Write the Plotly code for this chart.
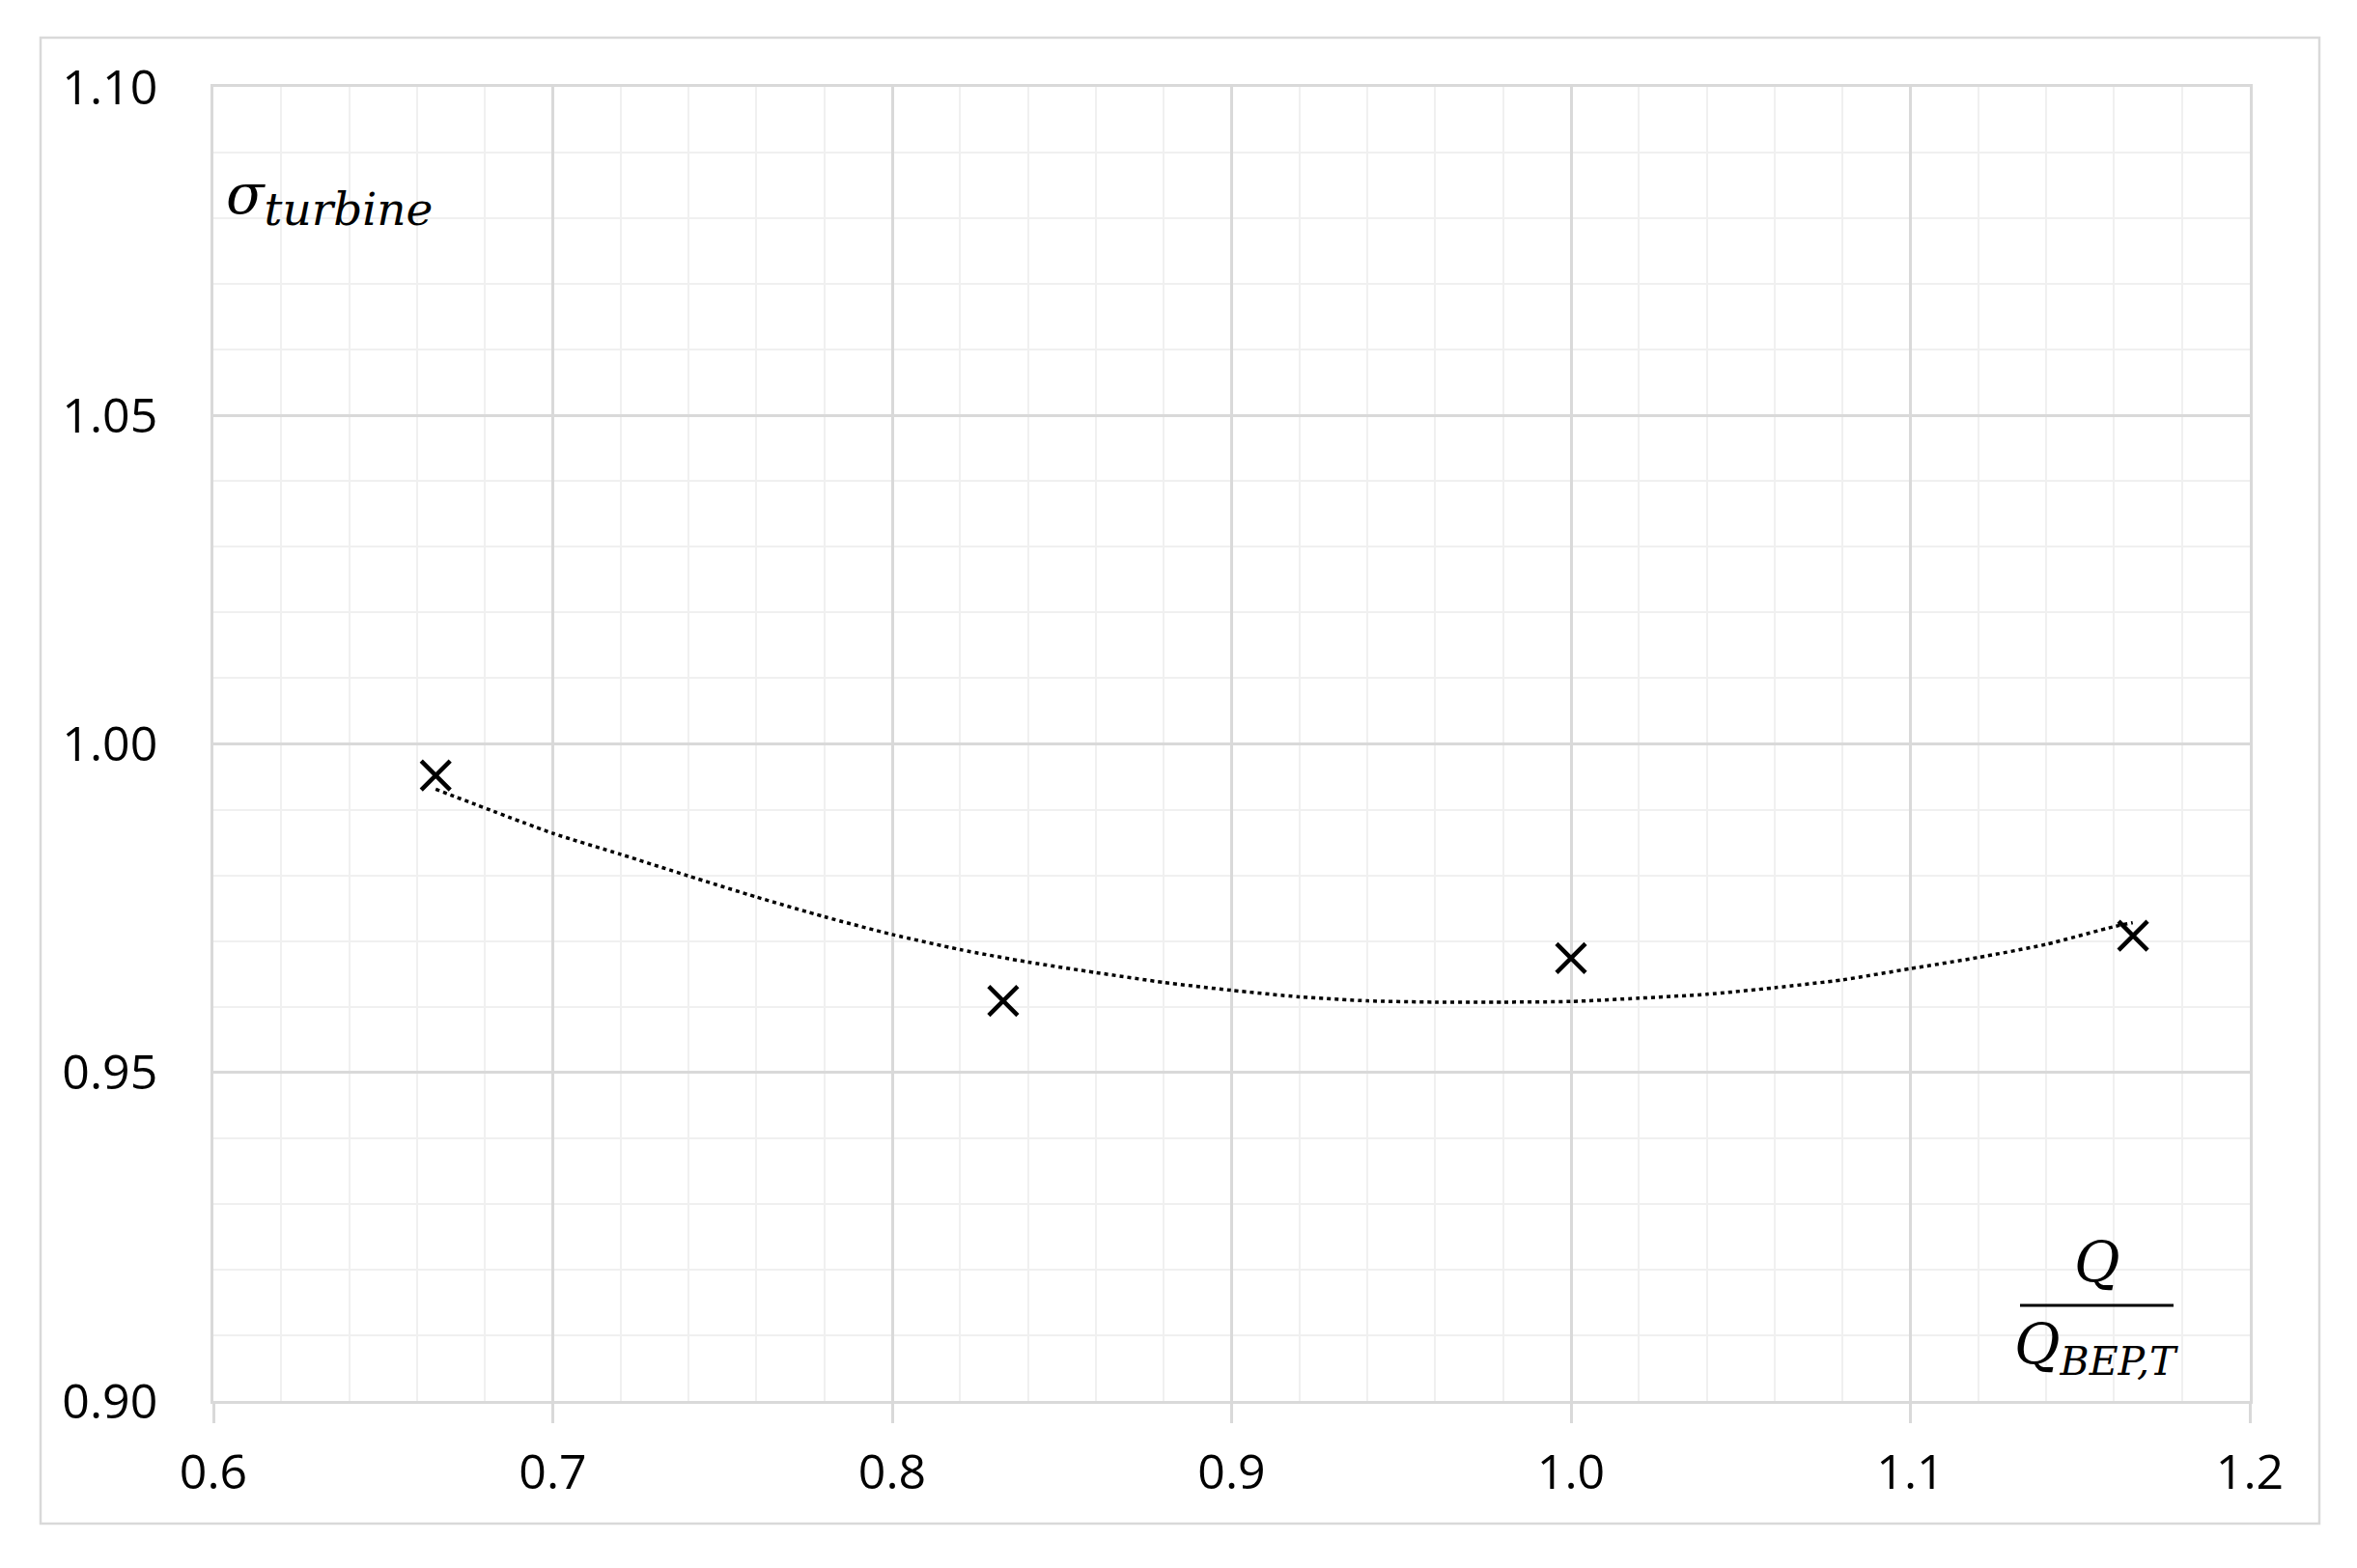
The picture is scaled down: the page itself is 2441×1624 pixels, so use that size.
import plotly.graph_objects as go

# ---- data ----
q_ratio = [0.6655, 0.8327, 1.000, 1.1656]
sigma_turbine = [0.9952, 0.9609, 0.9674, 0.9708]

trend_x = [0.6655, 0.70, 0.72, 0.74, 0.76, 0.78, 0.80, 0.82, 0.84, 0.86, 0.88, 0.90, 0.92,
           0.94, 0.96, 0.98, 1.00, 1.02, 1.04, 1.06, 1.08, 1.10, 1.12, 1.14, 1.16, 1.1655]
trend_y = [0.9931, 0.9864, 0.9832, 0.9799, 0.9767, 0.9737, 0.9710, 0.9687, 0.9668, 0.9652,
           0.9637, 0.9625, 0.9615, 0.9609, 0.9607, 0.9607, 0.9608, 0.9613, 0.9619, 0.9629,
           0.9641, 0.9658, 0.9675, 0.9695, 0.9722, 0.9728]

x_ticks = [0.6, 0.7, 0.8, 0.9, 1.0, 1.1, 1.2]
x_tick_labels = ["0.6", "0.7", "0.8", "0.9", "1.0", "1.1", "1.2"]
y_ticks = [0.90, 0.95, 1.00, 1.05, 1.10]
y_tick_labels = ["0.90", "0.95", "1.00", "1.05", "1.10"]

# ---- layout geometry (pixels, as seen in the page; body margin compensated) ----
OFF = 8
W, H = 2441, 1624
L, R, T, B = 221 - OFF, 2330 - OFF, 90 - OFF, 1451 - OFF
PW, PH = R - L, B - T


def px_x(p):
    return (p - OFF - L) / PW


def px_y(p):
    return (B - (p - OFF)) / PH


MAJOR = "#d9d9d9"
MINOR = "#f0f0f0"
TICKFONT = dict(family="Open Sans, Noto Sans, sans-serif", size=50, color="#000000")
MATHFONT = dict(family="DejaVu Serif, serif", size=58, color="#000000")

fig = go.Figure()

fig.add_trace(go.Scatter(
    x=trend_x, y=trend_y, mode="lines",
    line=dict(color="#000000", width=3.5, dash="4px,4px", shape="spline", smoothing=0.6),
    hoverinfo="skip", showlegend=False,
))

fig.add_trace(go.Scatter(
    x=q_ratio, y=sigma_turbine, mode="markers",
    marker=dict(symbol="x-thin", size=30, color="#000000",
                line=dict(color="#000000", width=4.5)),
    showlegend=False,
))

fig.update_layout(
    width=W, height=H,
    margin=dict(l=L, r=W - R, t=T, b=H - B, pad=0),
    paper_bgcolor="#ffffff", plot_bgcolor="#ffffff",
    showlegend=False,
    xaxis=dict(
        range=[0.6, 1.2], tickvals=x_ticks, ticktext=x_tick_labels,
        showgrid=True, gridcolor=MAJOR, gridwidth=2.5,
        zeroline=False, showline=True, linecolor=MAJOR, linewidth=2.5, mirror=True,
        ticks="outside", ticklen=20, tickwidth=2.5, tickcolor=MAJOR,
        tickfont=TICKFONT, ticklabelstandoff=8,
        minor=dict(dtick=0.02, showgrid=True, gridcolor=MINOR, gridwidth=2, ticks=""),
    ),
    yaxis=dict(
        range=[0.90, 1.10], tickvals=y_ticks, ticktext=y_tick_labels,
        showgrid=True, gridcolor=MAJOR, gridwidth=2.5,
        zeroline=False, showline=True, linecolor=MAJOR, linewidth=2.5, mirror=True,
        ticks="", tickfont=TICKFONT, ticklabelstandoff=45,
        minor=dict(dtick=0.01, showgrid=True, gridcolor=MINOR, gridwidth=2, ticks=""),
    ),
)

# outer chart border
fig.add_shape(type="rect", xref="paper", yref="paper",
              x0=px_x(42), x1=px_x(2402), y0=px_y(1578), y1=px_y(39),
              line=dict(color=MAJOR, width=2.5), fillcolor="rgba(0,0,0,0)", layer="below")

# y axis label: sigma_turbine
fig.add_annotation(xref="paper", yref="paper", x=px_x(232), y=px_y(206),
                   xanchor="left", yanchor="middle", showarrow=False,
                   text="<i>σ<sub><span style='font-size:47px'>turbine</span></sub></i>",
                   font=MATHFONT)

# x axis label: fraction Q / Q_BEP,T
fig.add_annotation(xref="paper", yref="paper", x=px_x(2172), y=px_y(1307),
                   xanchor="center", yanchor="middle", showarrow=False,
                   text="<i>Q</i>", font=MATHFONT)
fig.add_shape(type="line", xref="paper", yref="paper",
              x0=px_x(2092), x1=px_x(2251), y0=px_y(1352), y1=px_y(1352),
              line=dict(color="#000000", width=3))
fig.add_annotation(xref="paper", yref="paper", x=px_x(2171), y=px_y(1396),
                   xanchor="center", yanchor="middle", showarrow=False,
                   text="<i>Q<sub><span style='font-size:41px'>BEP,T</span></sub></i>",
                   font=MATHFONT)

fig.write_html("out.html")
